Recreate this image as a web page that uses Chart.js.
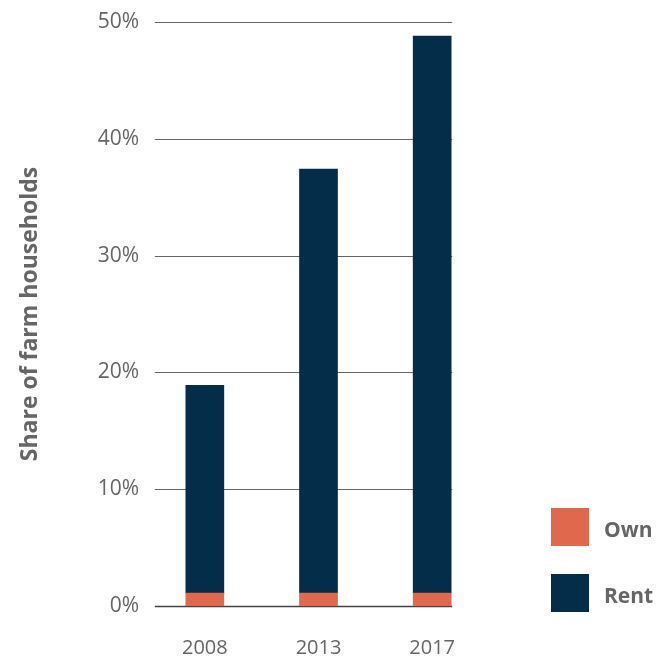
<!DOCTYPE html>
<html>
<head>
<meta charset="utf-8">
<script src="https://cdn.jsdelivr.net/npm/chart.js@4"></script>
<style>
  html, body { margin: 0; padding: 0; background: #fff; }
  #wrap { position: relative; width: 658px; height: 659px; }
  #legend { position: absolute; left: 551px; top: 508px; font-family: "Open Sans", sans-serif; }
  .lg-row { display: flex; align-items: center; height: 38px; margin-bottom: 28px; }
  .lg-box { width: 38px; height: 38px; margin-right: 15px; }
  .lg-text { font-size: 21px; font-weight: bold; color: #666; position: relative; top: 2px; }
</style>
</head>
<body>
<div id="wrap">
  <canvas id="chart" width="658" height="659"></canvas>
  <div id="legend"></div>
</div>
<script>
const years = ['2008', '2013', '2017'];
const ownShare = [1.1, 1.1, 1.1];
const rentShare = [17.8, 36.3, 47.7];
const yTicks = [0, 10, 20, 30, 40, 50];

const ORANGE = '#e0684c';
const NAVY = '#032d48';
const TEXT = '#666666';
const FONT = '"Open Sans", sans-serif';

// horizontal rules, stopping at the right edge of the last bar
const gridRules = {
    id: 'gridRules',
    beforeDatasetsDraw(chart) {
        const { ctx, scales } = chart;
        const meta = chart.getDatasetMeta(1);
        const last = meta.data[meta.data.length - 1];
        const x1 = scales.x.getPixelForValue(0) - 50;
        const x2 = last.x + last.width / 2 + 1;
        ctx.save();
        yTicks.forEach(v => {
            const y = Math.round(scales.y.getPixelForValue(v)) + 0.5;
            ctx.strokeStyle = v === 0 ? '#444' : '#666';
            ctx.lineWidth = v === 0 ? 1.5 : 1;
            ctx.beginPath();
            ctx.moveTo(x1, y);
            ctx.lineTo(x2, y);
            ctx.stroke();
        });
        ctx.restore();
    }
};

const chart = new Chart(document.getElementById('chart'), {
    type: 'bar',
    data: {
        labels: years,
        datasets: [
            { label: 'Own', data: ownShare, backgroundColor: ORANGE, barThickness: 38 },
            { label: 'Rent', data: rentShare, backgroundColor: NAVY, barThickness: 38 }
        ]
    },
    options: {
        responsive: false,
        animation: false,
        layout: { padding: { top: 22, right: 169, bottom: 0, left: 0 } },
        plugins: { legend: { display: false }, tooltip: { enabled: false } },
        scales: {
            x: {
                stacked: true,
                grid: { display: false, drawTicks: false },
                border: { display: false },
                ticks: { color: TEXT, font: { family: FONT, size: 20 }, padding: 30 },
                afterFit(s) { s.height = 53; }
            },
            y: {
                stacked: true,
                min: 0,
                max: 50,
                afterBuildTicks(s) { s.ticks = yTicks.map(v => ({ value: v })); },
                grid: { display: false, drawTicks: false },
                border: { display: false },
                ticks: {
                    color: TEXT,
                    font: { family: FONT, size: 21 },
                    padding: 9,
                    callback: v => v + '%'
                },
                title: {
                    display: true,
                    text: 'Share of farm households',
                    color: TEXT,
                    font: { family: FONT, size: 23, weight: 'bold' },
                    padding: { top: 17, bottom: 0 }
                },
                afterFit(s) { s.width = 148; }
            }
        }
    },
    plugins: [gridRules]
});

// legend beside the plot, listed bottom-up like the stack
document.getElementById('legend').innerHTML = chart.data.datasets.map(d => `
    <div class="lg-row">
        <div class="lg-box" style="background:${d.backgroundColor}"></div>
        <span class="lg-text">${d.label}</span>
    </div>`).join('');
</script>
</body>
</html>
